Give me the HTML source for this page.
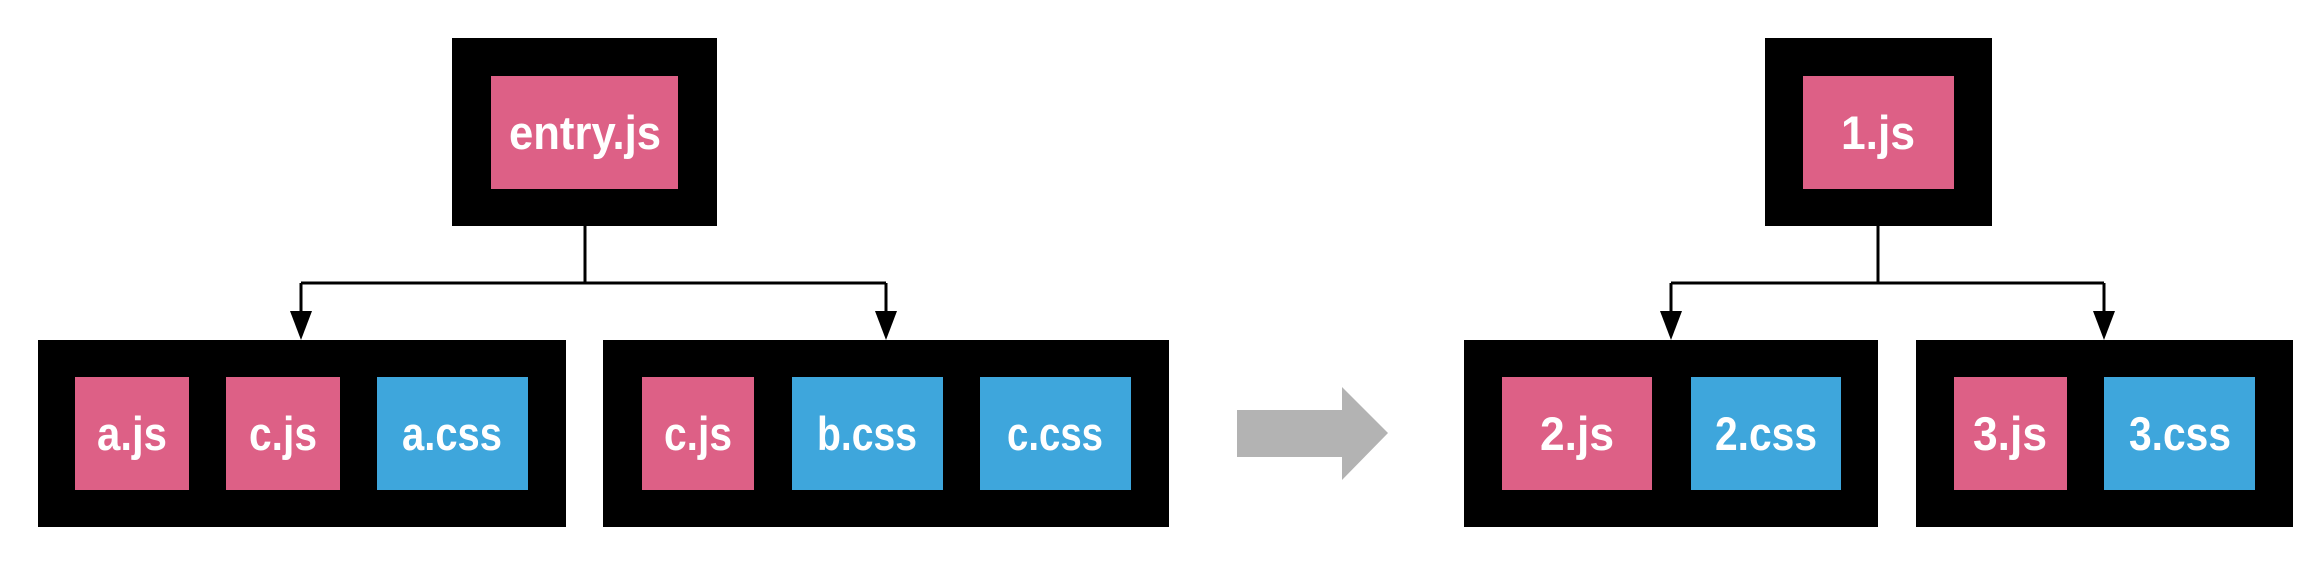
<!DOCTYPE html>
<html><head><style>html,body{margin:0;padding:0;background:#fff;}svg{display:block}</style></head><body>
<svg width="2321" height="575" viewBox="0 0 2321 575" xmlns="http://www.w3.org/2000/svg" font-family="Liberation Sans, sans-serif" font-weight="bold" font-size="47" fill="#fff" text-anchor="middle">
<defs><marker id="ah" markerWidth="10" markerHeight="14" refX="5" refY="14" orient="auto" markerUnits="userSpaceOnUse"></marker></defs>
<!-- left tree -->
<rect x="452" y="38" width="265" height="188" fill="#000"/>
<rect x="491" y="76" width="187" height="113" fill="#dd6086"/>
<path d="M585 226V283M301 283H886M301 283V312M886 283V312" stroke="#000" stroke-width="3" fill="none"/>
<polygon points="290,311 312,311 301,340" fill="#000"/>
<polygon points="875,311 897,311 886,340" fill="#000"/>
<rect x="38" y="340" width="528" height="187" fill="#000"/>
<rect x="75" y="377" width="114" height="113" fill="#dd6086"/>
<rect x="226" y="377" width="114" height="113" fill="#dd6086"/>
<rect x="377" y="377" width="151" height="113" fill="#3ea6dc"/>
<rect x="603" y="340" width="566" height="187" fill="#000"/>
<rect x="642" y="377" width="112" height="113" fill="#dd6086"/>
<rect x="792" y="377" width="151" height="113" fill="#3ea6dc"/>
<rect x="980" y="377" width="151" height="113" fill="#3ea6dc"/>
<g fill="#fff">
<text x="585" y="149" textLength="152" lengthAdjust="spacingAndGlyphs">entry.js</text>
<text x="132" y="450" textLength="70" lengthAdjust="spacingAndGlyphs">a.js</text>
<text x="283" y="450" textLength="68" lengthAdjust="spacingAndGlyphs">c.js</text>
<text x="452" y="450" textLength="100" lengthAdjust="spacingAndGlyphs">a.css</text>
<text x="698" y="450" textLength="68" lengthAdjust="spacingAndGlyphs">c.js</text>
<text x="867" y="450" textLength="100" lengthAdjust="spacingAndGlyphs">b.css</text>
<text x="1055" y="450" textLength="96" lengthAdjust="spacingAndGlyphs">c.css</text>
</g>
<!-- arrow -->
<polygon points="1237,410 1342,410 1342,387 1388,433 1342,480 1342,457 1237,457" fill="#b3b3b3"/>
<!-- right tree -->
<rect x="1765" y="38" width="227" height="188" fill="#000"/>
<rect x="1803" y="76" width="151" height="113" fill="#dd6086"/>
<path d="M1878 226V283M1671 283H2104M1671 283V312M2104 283V312" stroke="#000" stroke-width="3" fill="none"/>
<polygon points="1660,311 1682,311 1671,340" fill="#000"/>
<polygon points="2093,311 2115,311 2104,340" fill="#000"/>
<rect x="1464" y="340" width="414" height="187" fill="#000"/>
<rect x="1502" y="377" width="150" height="113" fill="#dd6086"/>
<rect x="1691" y="377" width="150" height="113" fill="#3ea6dc"/>
<rect x="1916" y="340" width="377" height="187" fill="#000"/>
<rect x="1954" y="377" width="113" height="113" fill="#dd6086"/>
<rect x="2104" y="377" width="151" height="113" fill="#3ea6dc"/>
<g fill="#fff">
<text x="1878" y="149" textLength="74" lengthAdjust="spacingAndGlyphs">1.js</text>
<text x="1577" y="450" textLength="74" lengthAdjust="spacingAndGlyphs">2.js</text>
<text x="1766" y="450" textLength="102" lengthAdjust="spacingAndGlyphs">2.css</text>
<text x="2010" y="450" textLength="74" lengthAdjust="spacingAndGlyphs">3.js</text>
<text x="2180" y="450" textLength="102" lengthAdjust="spacingAndGlyphs">3.css</text>
</g>
</svg>
</body></html>
